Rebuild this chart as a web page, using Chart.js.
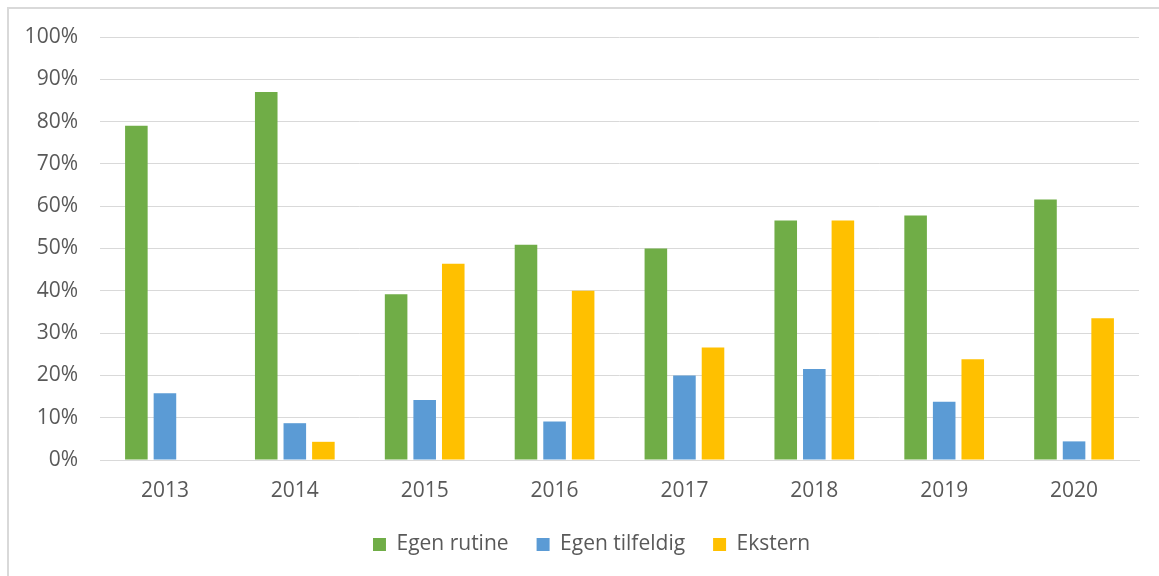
<!DOCTYPE html>
<html>
<head>
<meta charset="utf-8">
<script src="https://cdn.jsdelivr.net/npm/chart.js@4/dist/chart.umd.min.js"></script>
<style>
  html, body { margin: 0; padding: 0; background: #fff; }
  #wrap { position: relative; width: 1159px; height: 576px; overflow: hidden; }
  #frame { position: absolute; left: 7px; top: 7px; width: 1200px; height: 600px;
           border-top: 2px solid #d9d9d9; border-left: 2px solid #d9d9d9; }
  canvas { position: absolute; left: 0; top: 0; }
</style>
</head>
<body>
<div id="wrap">
  <div id="frame"></div>
  <canvas id="chart" width="1159" height="576"></canvas>
</div>
<script>
// År og andeler (prosent) lest av figuren
const years = ['2013', '2014', '2015', '2016', '2017', '2018', '2019', '2020'];
const egenRutine = [79, 87, 39.2, 50.9, 50, 56.6, 57.8, 61.6];
const egenTilfeldig = [15.8, 8.7, 14.2, 9.1, 20, 21.5, 13.8, 4.4];
const ekstern = [null, 4.3, 46.4, 40, 26.6, 56.6, 23.8, 33.5];

const textColor = '#595959';
const gridColor = '#d9d9d9';
const fontFamily = '"Open Sans", "Liberation Sans", sans-serif';

function lagSerie(navn, verdier, farge) {
    return {
        label: navn,
        data: verdier,
        backgroundColor: farge,
        borderWidth: 0,
        categoryPercentage: 0.66,
        barPercentage: 0.79
    };
}

// flytter legenden litt mot høyre, som i originalen
const legendShift = {
    id: 'legendShift',
    afterLayout: function(chart) {
        chart.legend.left += 22;
        chart.legend.right += 22;
    }
};

const ctx = document.getElementById('chart').getContext('2d');
new Chart(ctx, {
    type: 'bar',
    data: {
        labels: years,
        datasets: [
            lagSerie('Egen rutine', egenRutine, '#70AD47'),
            lagSerie('Egen tilfeldig', egenTilfeldig, '#5B9BD5'),
            lagSerie('Ekstern', ekstern, '#FFC000')
        ]
    },
    plugins: [legendShift],
    options: {
        responsive: false,
        animation: false,
        layout: { padding: { left: 0, right: 20, top: 37, bottom: 11 } },
        plugins: {
            tooltip: { enabled: false },
            legend: {
                position: 'bottom',
                labels: {
                    boxWidth: 13,
                    boxHeight: 13,
                    padding: 28,
                    color: textColor,
                    font: { family: fontFamily, size: 21 }
                }
            }
        },
        scales: {
            x: {
                grid: { display: false, drawTicks: false },
                border: { color: gridColor, width: 1 },
                ticks: {
                    color: textColor,
                    padding: 18,
                    font: { family: fontFamily, size: 21 }
                },
                afterFit: function(scale) { scale.height = 46; }
            },
            y: {
                min: 0,
                max: 100,
                grid: { color: gridColor, lineWidth: 1, drawTicks: false },
                border: { display: false },
                ticks: {
                    stepSize: 10,
                    color: textColor,
                    padding: 22,
                    font: { family: fontFamily, size: 21 },
                    callback: function(v) { return v + '%'; }
                },
                afterFit: function(scale) { scale.width = 100; }
            }
        }
    }
});
</script>
</body>
</html>
